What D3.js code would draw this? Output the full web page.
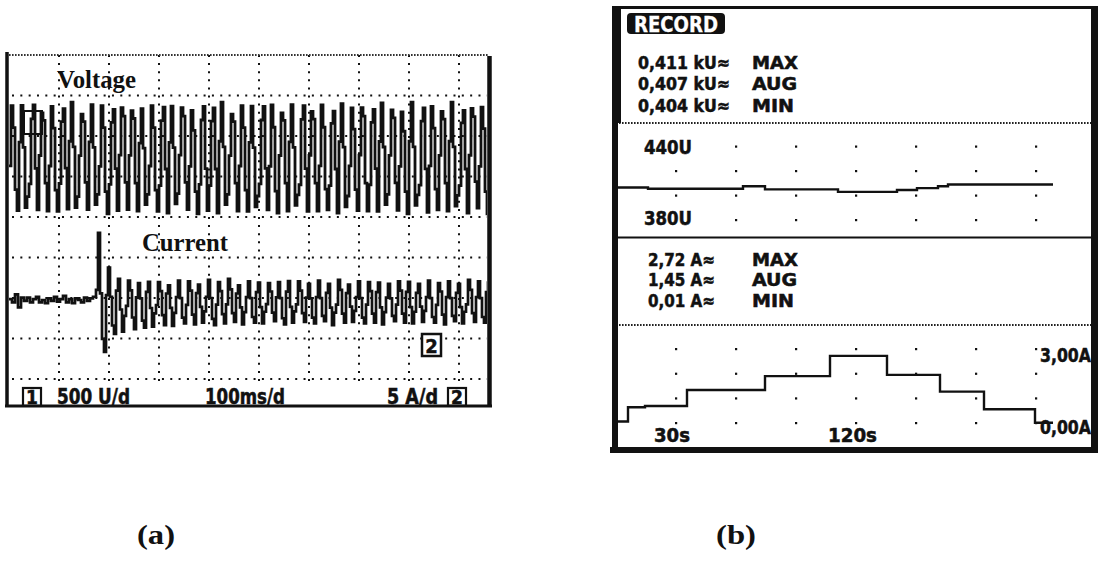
<!DOCTYPE html>
<html>
<head>
<meta charset="utf-8">
<script src="https://cdn.jsdelivr.net/npm/d3@7"></script>
<style>
  body { margin: 0; background: #fff; }
  svg { display: block; }
  .lcd { font-family: "DejaVu Sans Condensed", "Liberation Sans Narrow", "DejaVu Sans", sans-serif; font-weight: bold; fill: #111; stroke: #111; stroke-width: 0.5px; }
  .serif { font-family: "Liberation Serif", "DejaVu Serif", serif; font-weight: bold; fill: #111; }
</style>
</head>
<body>
<svg id="chart" width="1103" height="562"></svg>
<script>
// ---------------- Panel (a): scope capture, 100 ms/div, CH1 500 V/div, CH2 5 A/div ----------------
const periodMs = 20;                       // 50 Hz mains
// per-cycle positive / negative peaks of the line voltage (V)
const voltTop = [680, 650, 690, 620, 670, 640, 690, 600, 660, 680, 630, 690, 650, 610, 680, 660, 640,
                 690, 620, 670, 650, 690, 600, 680, 640, 670, 690, 620, 660, 680, 640, 690, 610, 670,
                 650, 690, 630, 680, 660, 600, 690, 650, 670, 640, 690, 620, 680, 660, 690];
const voltBottom = [-650, -680, -640, -690, -660, -630, -680, -670, -640, -690, -650, -670, -690, -640,
                    -660, -680, -630, -670, -690, -650, -680, -640, -690, -660, -670, -640, -680, -690,
                    -650, -660, -690, -640, -680, -670, -650, -690, -660, -640, -680, -690, -650, -670,
                    -640, -690, -660, -680, -650, -690, -670];
// sampled shapes of one voltage cycle (fraction of the cycle peak); the sampling phase drifts
const voltShapes = [
  [-0.15, 0.95, 0.55, -0.6, -1],
  [0.3, 1, 0.2, -0.9, -0.7],
  [-0.5, 0.7, 0.95, -0.2, -1],
  [0.05, 0.9, 0.75, -0.45, -0.95]
];
const voltShapeIdx = [0, 1, 2, 3, 0, 2, 1, 3, 1, 0, 2, 3, 3, 1, 0, 2, 1, 3, 0, 2, 2, 1, 3, 0, 1, 2,
                      0, 3, 1, 2, 3, 0, 2, 1, 0, 3, 2, 1, 3, 0, 1, 2, 0, 3, 1, 2, 3, 0, 1];

// line current before the motor starts (A, one sample every 6 ms)
const currPre = [0.1, -0.3, 0.7, -0.9, 0.3, -0.1, 0.3, -0.3, 0.1, 0.4, -0.3, 0.0, -0.4, 0.2, -0.1,
                 0.4, -0.2, 0.1, 0.5, -0.3, 0.1, -0.4, 0.2, 0.0, -0.3, 0.3, -0.1, 0.2, 0.4];
const currStartMs = 174;
// per-cycle positive / negative current peaks after switch-on (A)
const currTop = [8.3, 4.0, 2.9, 2.4, 2.1, 2.5, 2.2, 2.0, 2.4, 2.3, 2.1, 2.5, 2.2, 2.6, 2.0, 2.3, 2.4,
                 2.1, 2.2, 2.6, 2.3, 2.0, 2.4, 2.2, 2.5, 2.1, 2.3, 2.2, 2.4, 2.0, 2.3, 2.5, 2.2, 2.4,
                 2.1, 2.3, 2.2, 2.5, 2.3, 2.4];
const currBottom = [-6.4, -4.2, -3.9, -3.6, -3.4, -3.3, -3.1, -3.2, -2.9, -3.0, -2.8, -3.1, -2.9, -2.7,
                    -3.0, -2.8, -2.9, -2.6, -3.0, -2.8, -2.7, -2.9, -2.6, -3.1, -2.8, -2.7, -2.9, -2.8,
                    -3.0, -2.6, -2.8, -2.9, -2.7, -2.8, -3.0, -2.6, -2.9, -2.7, -2.8, -2.9];
const currShapes = [
  [0.15, 1, 0.1, -0.75, -1],
  [0.4, 0.9, -0.3, -1, -0.5],
  [-0.2, 1, 0.5, -0.6, -1]
];
const currShapeIdx = [0, 0, 1, 2, 0, 1, 2, 1, 0, 2, 1, 0, 2, 2, 1, 0, 1, 2, 0, 1, 2, 0, 0, 1, 2, 1,
                      0, 2, 1, 0, 2, 1, 1, 0, 2, 0, 1, 2, 0, 1];

const scopeLabels = { ch1: "500 U/d", time: "100ms/d", ch2: "5 A/d" };

// ---------------- Panel (b): record mode (time in s) ----------------
const recVoltT = [0, 16, 63.5, 74.5, 111, 140.5, 150.5, 161, 166, 218.5];
const recVoltV = [406.5, 405.5, 407.5, 405, 403, 404.5, 406, 407.5, 409, 409];
const recCurrT = [0, 6, 14.5, 35.5, 74.5, 107, 135.5, 162, 184, 209.5, 218.5];
const recCurrA = [0.06, 0.64, 0.69, 1.34, 1.90, 2.72, 1.95, 1.27, 0.56, 0.01, 0.01];
const voltReadout = ["0,411 kU≈", "0,407 kU≈", "0,404 kU≈"];
const currReadout = ["2,72 A≈", "1,45 A≈", "0,01 A≈"];
const readoutTags = ["MAX", "AUG", "MIN"];
const voltAxisLabels = ["440U", "380U"];
const currAxisLabels = ["3,00A", "0,00A"];
const timeLabels = ["30s", "120s"];
const panelCaptions = ["(a)", "(b)"];

// ======================================================================
const svg = d3.select("#chart");
const ink = "#111";

// ---------- Panel (a) ----------
const xA = d3.scaleLinear().domain([0, 1000]).range([9, 509]);      // ms
const yDiv = d3.scaleLinear().domain([4, -4]).range([55, 379]);     // screen divisions
const yVolt = d3.scaleLinear().domain([-500, 500]).range([158 + 40.5, 158 - 40.5]);
const yCurr = d3.scaleLinear().domain([-5, 5]).range([300 + 40.5, 300 - 40.5]);
const aLeft = 9, aRight = 487;

const gA = svg.append("g");
// dotted graticule
gA.selectAll("line.row").data(d3.range(3, -5, -1)).join("line")
  .attr("x1", aLeft + 3).attr("x2", aRight)
  .attr("y1", d => yDiv(d)).attr("y2", d => yDiv(d))
  .attr("stroke", ink).attr("stroke-width", 2).attr("stroke-dasharray", "2 6.33");
gA.selectAll("line.col").data(d3.range(100, 1000, 100)).join("line")
  .attr("x1", d => xA(d)).attr("x2", d => xA(d))
  .attr("y1", yDiv(4)).attr("y2", yDiv(-4) + 2)
  .attr("stroke", ink).attr("stroke-width", 2).attr("stroke-dasharray", "2 6.1");
// top edge (fine dots)
gA.append("line").attr("x1", aLeft).attr("x2", aRight + 2).attr("y1", 55).attr("y2", 55)
  .attr("stroke", "#333").attr("stroke-width", 2).attr("stroke-dasharray", "1.6 1.4");

// channel 1 marker box
gA.append("rect").attr("x", 24).attr("y", 111).attr("width", 18).attr("height", 23)
  .attr("fill", "#fff").attr("stroke", ink).attr("stroke-width", 2);

// traces
svg.append("clipPath").attr("id", "clipA")
  .append("rect").attr("x", aLeft).attr("y", 56).attr("width", aRight - aLeft).attr("height", 326);

const cyclePoints = (tops, bottoms, shapes, idx, t0) => {
  const pts = [];
  tops.forEach((top, i) => {
    const shape = shapes[idx[i]];
    shape.forEach((s, j) => {
      const t = t0 + i * periodMs + j * periodMs / shape.length;
      pts.push([t, s >= 0 ? s * top : -s * bottoms[i]]);
    });
  });
  return pts;
};
const voltPts = cyclePoints(voltTop, voltBottom, voltShapes, voltShapeIdx, 0);
const currPts = currPre.map((a, i) => [i * 6, a])
  .concat(cyclePoints(currTop, currBottom, currShapes, currShapeIdx, currStartMs));

gA.append("path").datum(voltPts)
  .attr("clip-path", "url(#clipA)")
  .attr("d", d3.line().x(d => xA(d[0])).y(d => yVolt(d[1])).curve(d3.curveStepAfter))
  .attr("fill", "none").attr("stroke", ink).attr("stroke-width", 2.8);
gA.append("path").datum(currPts)
  .attr("clip-path", "url(#clipA)")
  .attr("d", d3.line().x(d => xA(d[0])).y(d => yCurr(d[1])).curve(d3.curveStepAfter))
  .attr("fill", "none").attr("stroke", ink).attr("stroke-width", 2.7);

// channel 2 marker box
gA.append("rect").attr("x", 422).attr("y", 334).attr("width", 19).attr("height", 22)
  .attr("fill", "#fff").attr("stroke", ink).attr("stroke-width", 2.5);
gA.append("text").attr("class", "lcd").attr("x", 431.5).attr("y", 352.5)
  .attr("text-anchor", "middle").attr("font-size", 20).text("2");

// trace names
gA.append("text").attr("class", "serif").attr("x", 57).attr("y", 88).attr("font-size", 25)
  .attr("textLength", 79).attr("lengthAdjust", "spacingAndGlyphs").text("Voltage");
gA.append("text").attr("class", "serif").attr("x", 142).attr("y", 251).attr("font-size", 25)
  .attr("textLength", 86).attr("lengthAdjust", "spacingAndGlyphs").text("Current");

// frame
gA.append("line").attr("x1", 7).attr("x2", 7).attr("y1", 52).attr("y2", 407)
  .attr("stroke", ink).attr("stroke-width", 3.5);
gA.append("line").attr("x1", 489.5).attr("x2", 489.5).attr("y1", 56).attr("y2", 406)
  .attr("stroke", ink).attr("stroke-width", 4.5);
gA.append("line").attr("x1", 5).attr("x2", 492).attr("y1", 406).attr("y2", 406)
  .attr("stroke", ink).attr("stroke-width", 3);

// status line
const statusY = 403.5;
[[23, 1], [448, 2]].forEach(([x, n]) => {
  gA.append("rect").attr("x", x).attr("y", 388).attr("width", 18).attr("height", 17.5)
    .attr("fill", "#fff").attr("stroke", ink).attr("stroke-width", 2.2);
  gA.append("text").attr("class", "lcd").attr("x", x + 9).attr("y", statusY)
    .attr("text-anchor", "middle").attr("font-size", 19).text(n);
});
[[scopeLabels.ch1, 57, 73], [scopeLabels.time, 205, 80], [scopeLabels.ch2, 387, 51]].forEach(([s, x, w]) => {
  gA.append("text").attr("class", "lcd").attr("x", x).attr("y", statusY).attr("font-size", 21)
    .attr("textLength", w).attr("lengthAdjust", "spacingAndGlyphs").text(s);
});

// ---------- Panel (b) ----------
const gB = svg.append("g");
const xB = d3.scaleLinear().domain([0, 240]).range([616, 1096]);
const yRecV = d3.scaleLinear().domain([380, 440]).range([220, 146.5]);
const yRecA = d3.scaleLinear().domain([0, 3]).range([423, 349]);

// RECORD badge
gB.append("rect").attr("x", 627).attr("y", 13).attr("width", 98).attr("height", 21).attr("rx", 4)
  .attr("fill", ink);
gB.append("text").attr("class", "lcd").attr("x", 634).attr("y", 32).attr("font-size", 21)
  .style("fill", "#fff").style("stroke", "#fff").style("stroke-width", "0.3px")
  .attr("textLength", 84).attr("lengthAdjust", "spacingAndGlyphs").text("RECORD");

const readout = (vals, x, w, ys) => {
  vals.forEach((s, i) => {
    gB.append("text").attr("class", "lcd").attr("x", x).attr("y", ys[i]).attr("font-size", 18)
      .attr("textLength", w).attr("lengthAdjust", "spacingAndGlyphs").text(s);
    gB.append("text").attr("class", "lcd").attr("x", 752).attr("y", ys[i]).attr("font-size", 18)
      .attr("textLength", [46, 45, 42][i]).attr("lengthAdjust", "spacingAndGlyphs").text(readoutTags[i]);
  });
};
readout(voltReadout, 638, 92, [68.5, 90, 111.5]);
readout(currReadout, 648, 67, [265.5, 285.5, 306.5]);

// dotted separators
[123, 325].forEach(y => gB.append("line").attr("x1", 619).attr("x2", 1091).attr("y1", y).attr("y2", y)
  .attr("stroke", "#222").attr("stroke-width", 2).attr("stroke-dasharray", "1.6 1.4"));

// grid dots
const cols = d3.range(30, 240, 30);
const dot = (x, y) => gB.append("rect").attr("x", x - 1).attr("y", y - 1).attr("width", 2.2).attr("height", 2.2).attr("fill", ink);
[440, 420, 400, 380].forEach(v => cols.forEach(t => dot(xB(t), yRecV(v))));
[3, 2, 1, 0].forEach(a => cols.forEach(t => dot(xB(t), yRecA(a))));

// axis labels (with LCD background)
const label = (s, x, y, w, bg) => {
  if (bg) gB.append("rect").attr("x", x - 2).attr("y", y - 16).attr("width", w + 4).attr("height", 18).attr("fill", "#fff");
  gB.append("text").attr("class", "lcd").attr("x", x).attr("y", y).attr("font-size", 20)
    .attr("textLength", w).attr("lengthAdjust", "spacingAndGlyphs").text(s);
};
label(voltAxisLabels[0], 644, 154, 48, true);
label(voltAxisLabels[1], 644, 224.5, 48, true);
label(currAxisLabels[0], 1040, 362, 51, true);
label(timeLabels[0], 654, 442, 36, true);
label(timeLabels[1], 828, 442, 49, true);

// record traces
gB.append("path").datum(recVoltT.map((t, i) => [t, recVoltV[i]]))
  .attr("d", d3.line().x(d => xB(d[0])).y(d => yRecV(d[1])).curve(d3.curveStepAfter))
  .attr("fill", "none").attr("stroke", ink).attr("stroke-width", 2.4);
gB.append("path").datum(recCurrT.map((t, i) => [t, recCurrA[i]]))
  .attr("d", d3.line().x(d => xB(d[0])).y(d => yRecA(d[1])).curve(d3.curveStepAfter))
  .attr("fill", "none").attr("stroke", ink).attr("stroke-width", 2.4);
label(currAxisLabels[1], 1040, 433.5, 51, false);

// section rule and frame
gB.append("line").attr("x1", 617).attr("x2", 1092).attr("y1", 237.5).attr("y2", 237.5)
  .attr("stroke", ink).attr("stroke-width", 2);
gB.append("line").attr("x1", 612).attr("x2", 1098).attr("y1", 7.5).attr("y2", 7.5)
  .attr("stroke", ink).attr("stroke-width", 3);
gB.append("rect").attr("x", 612).attr("y", 7).attr("width", 9).attr("height", 116).attr("fill", ink);
gB.append("rect").attr("x", 612).attr("y", 7).attr("width", 6).attr("height", 446).attr("fill", ink);
gB.append("rect").attr("x", 1091).attr("y", 7).attr("width", 7).attr("height", 446).attr("fill", ink);
gB.append("rect").attr("x", 610).attr("y", 447).attr("width", 488).attr("height", 6).attr("fill", ink);

// captions
[[panelCaptions[0], 137, 38], [panelCaptions[1], 716, 40]].forEach(([s, x, w]) => {
  svg.append("text").attr("class", "serif").attr("x", x).attr("y", 544).attr("font-size", 27)
    .attr("textLength", w).attr("lengthAdjust", "spacingAndGlyphs").text(s);
});
</script>
</body>
</html>
